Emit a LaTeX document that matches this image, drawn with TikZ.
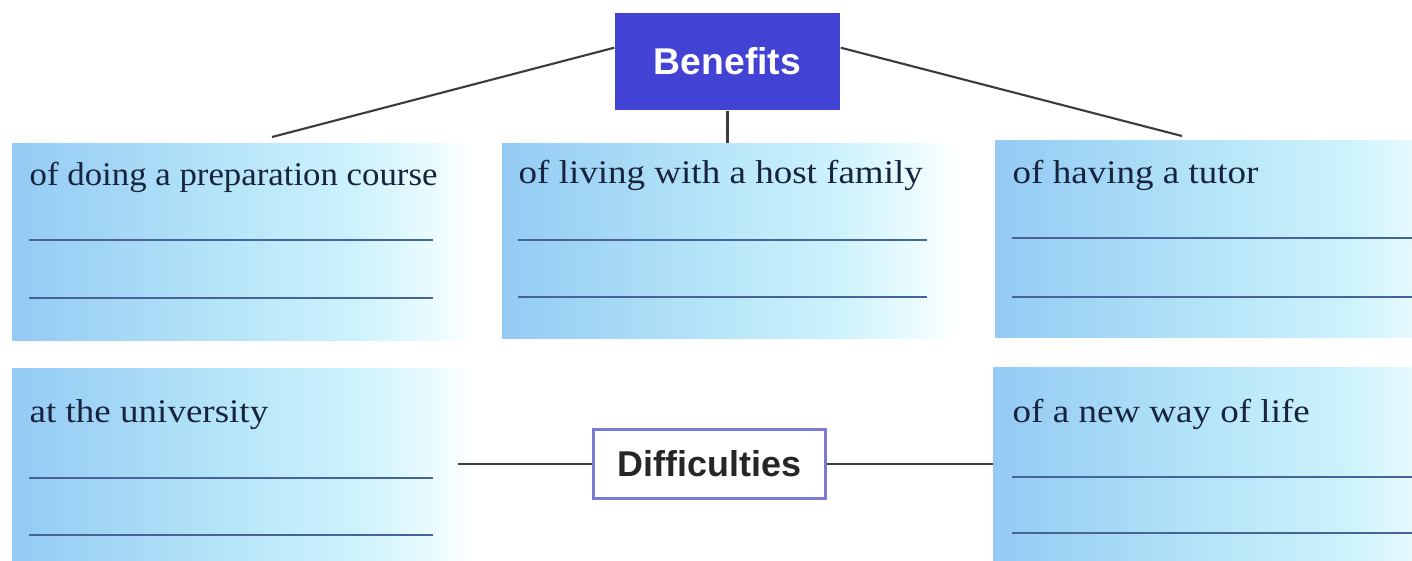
\documentclass[tikz,border=0pt]{standalone}
\usepackage{fontspec}
\setmainfont{Liberation Serif}
\newfontfamily\boxfont[FakeStretch=1.12]{Liberation Serif}
\newfontfamily\headfont{Liberation Sans}
\usepackage{graphicx}
\usetikzlibrary{calc}
\definecolor{bA}{RGB}{148,202,244}
\definecolor{bB}{RGB}{180,228,248}
\definecolor{bC}{RGB}{205,242,252}
\definecolor{bD}{RGB}{236,252,255}
\definecolor{benfill}{RGB}{66,66,212}
\definecolor{diffline}{RGB}{122,122,212}
\definecolor{ruleblue}{RGB}{70,100,150}
\definecolor{txt}{RGB}{24,36,62}
\definecolor{connc}{RGB}{60,60,60}
\pgfdeclarehorizontalshading{fadebox}{100bp}{color(0bp)=(bA); color(25bp)=(bA); color(47bp)=(bB); color(62bp)=(bC); color(71bp)=(bD); color(75bp)=(white); color(100bp)=(white)}
\tikzset{
  panel/.style={rectangle, draw=none, shading=fadebox, inner sep=0pt, outer sep=0pt, anchor=north west},
  boxlabel/.style={anchor=base west, inner sep=0pt, font=\boxfont\fontsize{9.4}{11}\selectfont, text=txt},
  rulel/.style={draw=ruleblue, line width=0.6pt},
  connl/.style={draw=connc, line width=0.6pt},
}
\begin{document}
\begin{tikzpicture}[x=0.01cm, y=-0.01cm]
\useasboundingbox (0,0) rectangle (1412,560);
\fill[white] (0,0) rectangle (1412,560);
% panels
\begin{scope}
\clip (0,0) rectangle (1412,560);
\node[panel, minimum width=4.63cm, minimum height=1.97cm] (p1) at (12,143) {};
\node[panel, minimum width=4.55cm, minimum height=1.95cm] (p2) at (502,143) {};
\node[panel, minimum width=4.75cm, minimum height=1.97cm] (p3) at (995,140) {};
\node[panel, minimum width=4.63cm, minimum height=2.2cm] (p4) at (12,368) {};
\node[panel, minimum width=4.75cm, minimum height=2.2cm] (p5) at (993,367) {};
\end{scope}
% writing rules
\draw[rulel] (29,240) -- (433,240);
\draw[rulel] (29,298) -- (433,298);
\draw[rulel] (518,240) -- (927,240);
\draw[rulel] (518,297) -- (927,297);
\draw[rulel] (1012,238) -- (1412,238);
\draw[rulel] (1012,297) -- (1412,297);
\draw[rulel] (29,478) -- (433,478);
\draw[rulel] (29,535) -- (433,535);
\draw[rulel] (1012,477) -- (1412,477);
\draw[rulel] (1012,533) -- (1412,533);
% labels
\node[boxlabel] (t1) at (29,185) {\scalebox{0.94}[1]{of doing a preparation course}};
\node[boxlabel] (t2) at (518,183) {of living with a host family};
\node[boxlabel] (t3) at (1012,183) {of having a tutor};
\node[boxlabel] (t4) at (29,422) {at the university};
\node[boxlabel] (t5) at (1012,422) {of a new way of life};
% headings
\node[fill=benfill, minimum width=2.25cm, minimum height=0.97cm, inner sep=0pt, text=white,
      font=\headfont\bfseries\fontsize{10.6}{12}\selectfont] (ben) at (727.5,61.5) {Benefits};
\node[draw=diffline, line width=0.85pt, fill=white, minimum width=2.32cm, minimum height=0.69cm,
      inner sep=0pt, text=black!85, font=\headfont\bfseries\fontsize{10.2}{12}\selectfont] (dif) at (709.5,464) {Difficulties};
% connectors
\coordinate (c1) at (272,137);
\coordinate (c3) at (1182,136);
\coordinate (c4) at (458,464);
\draw[connl] ($(ben.north west)!0.36!(ben.south west)$) -- (c1);
\draw[connl] ($(ben.north east)!0.36!(ben.south east)$) -- (c3);
\draw[connl] (ben.south) -- (ben.south |- p2.north);
\draw[connl] (c4) -- (dif.west);
\draw[connl] (dif.east) -- (dif.east -| p5.west);
\end{tikzpicture}
\end{document}
